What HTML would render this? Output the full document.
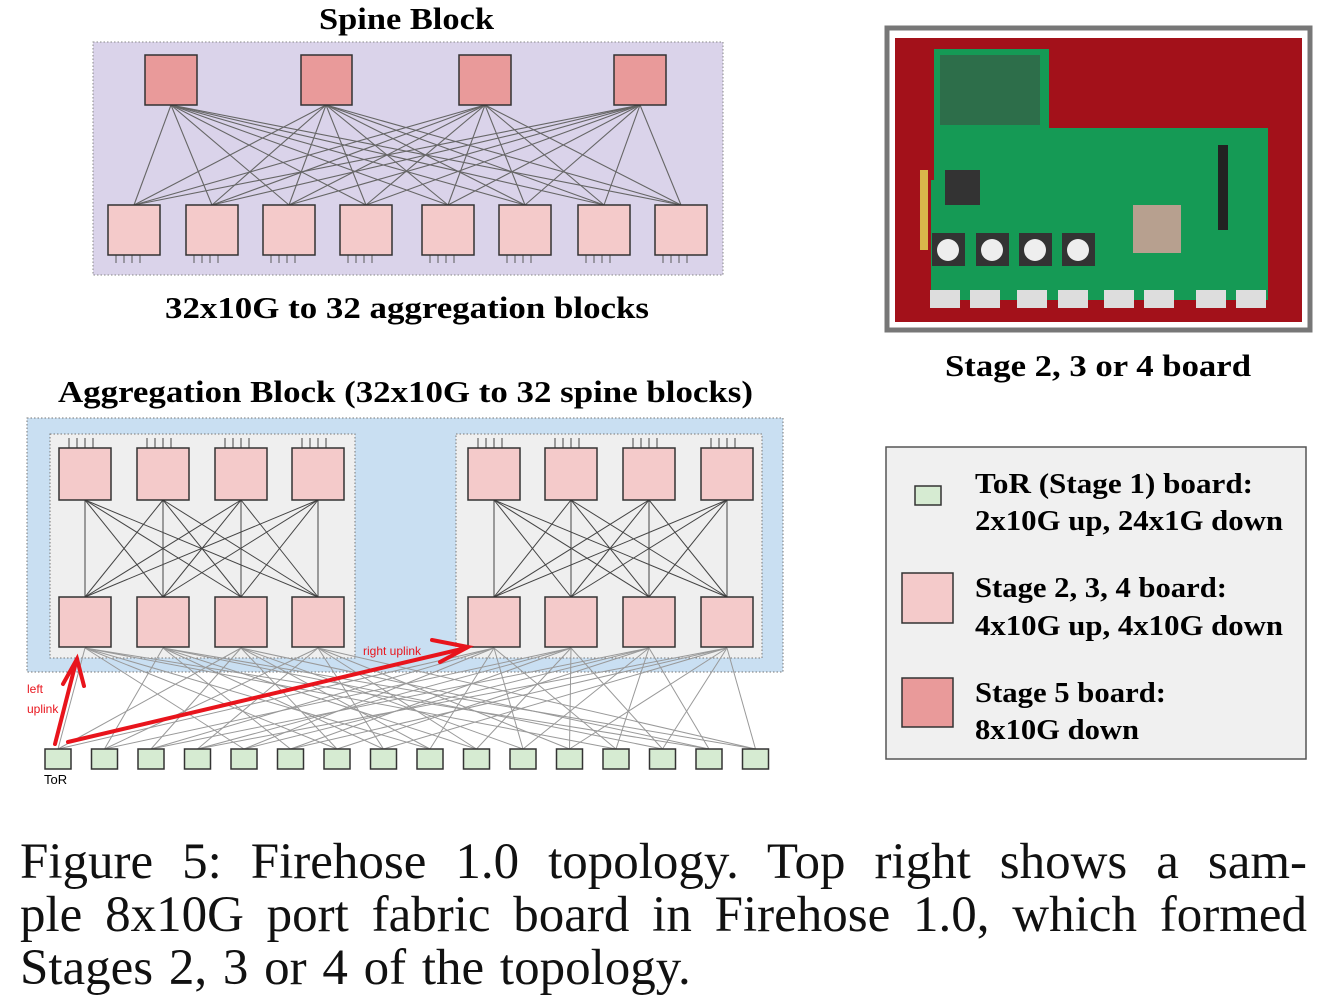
<!DOCTYPE html>
<html><head><meta charset="utf-8"><style>
html,body{margin:0;padding:0;background:#fff;width:1334px;height:1006px;overflow:hidden}
svg{position:absolute;left:0;top:0}
.cap{position:absolute;left:20px;width:1287px;font-family:"Liberation Serif",serif;font-size:51px;text-align:justify;text-align-last:justify;line-height:53px;color:#111;white-space:nowrap}
</style></head><body>
<svg id="s" width="1334" height="1006" xmlns="http://www.w3.org/2000/svg" font-family="Liberation Serif, serif">
<text x="319" y="29" font-size="31" font-weight="bold" textLength="175" lengthAdjust="spacingAndGlyphs">Spine Block</text>
<rect x="93" y="42" width="630" height="233" fill="#dad3ea" stroke="#888" stroke-dasharray="1.5,2"/>
<g id="spl" stroke="#666" stroke-width="1.1"></g>
<g id="spn" fill="#e99a9a" stroke="#333" stroke-width="1.5">
<rect x="145" y="55" width="52" height="50"/><rect x="301" y="55" width="51" height="50"/><rect x="459" y="55" width="52" height="50"/><rect x="614" y="55" width="52" height="50"/>
</g>
<g id="low" fill="#f4caca" stroke="#333" stroke-width="1.5"></g>
<text x="165" y="318" font-size="31" font-weight="bold" textLength="484" lengthAdjust="spacingAndGlyphs">32x10G to 32 aggregation blocks</text>

<rect x="887" y="28" width="423" height="302" fill="#fff" stroke="#777" stroke-width="5"/>
<rect x="895" y="38" width="407" height="284" fill="#a3111a"/>
<polygon points="934,49 1049,49 1049,128 1268,128 1268,300 931,300 931,180 934,180" fill="#159a55"/>
<rect x="920" y="170" width="8" height="80" fill="#d9b44a"/>
<rect x="940" y="55" width="100" height="70" fill="#2d6e4a"/>
<rect x="945" y="170" width="35" height="35" fill="#333"/>
<rect x="1133" y="205" width="48" height="48" fill="#b7a08f"/>
<rect x="1218" y="145" width="10" height="85" fill="#222"/>
<g fill="#333"><rect x="932" y="233" width="33" height="33"/><rect x="976" y="233" width="33" height="33"/><rect x="1019" y="233" width="33" height="33"/><rect x="1062" y="233" width="33" height="33"/></g>
<g fill="#eee"><circle cx="948" cy="250" r="11"/><circle cx="992" cy="250" r="11"/><circle cx="1035" cy="250" r="11"/><circle cx="1078" cy="250" r="11"/></g>
<g fill="#ddd"><rect x="930" y="290" width="30" height="18"/><rect x="970" y="290" width="30" height="18"/><rect x="1017" y="290" width="30" height="18"/><rect x="1058" y="290" width="30" height="18"/><rect x="1104" y="290" width="30" height="18"/><rect x="1144" y="290" width="30" height="18"/><rect x="1196" y="290" width="30" height="18"/><rect x="1236" y="290" width="30" height="18"/></g>
<text x="945" y="376" font-size="31" font-weight="bold" textLength="306" lengthAdjust="spacingAndGlyphs">Stage 2, 3 or 4 board</text>

<text x="58" y="402" font-size="31" font-weight="bold" textLength="695" lengthAdjust="spacingAndGlyphs">Aggregation Block (32x10G to 32 spine blocks)</text>
<rect x="27" y="418" width="756" height="254" fill="#c9dff2" stroke="#777" stroke-dasharray="1.5,2"/>
<rect x="50" y="434" width="305" height="224" fill="#efefef" stroke="#777" stroke-dasharray="1.5,2"/>
<rect x="456" y="434" width="306" height="224" fill="#efefef" stroke="#777" stroke-dasharray="1.5,2"/>
<g id="tl" stroke="#999" stroke-width="1"></g>
<g id="agl" stroke="#444" stroke-width="1"></g>
<g id="agn" fill="#f4caca" stroke="#333" stroke-width="1.5"></g>
<g id="tor" fill="#d6ebd2" stroke="#333" stroke-width="1.5"></g>
<text x="44" y="784" font-family="Liberation Sans, sans-serif" font-size="13">ToR</text>
<g stroke="#e8141c" stroke-width="4" fill="none" stroke-linecap="round">
<line x1="55" y1="744" x2="76" y2="662"/><polyline points="63,684 77,659 84,686"/>
<line x1="68" y1="742" x2="466" y2="648"/><polyline points="432,640 468,647 440,662"/>
</g>
<g fill="#e8141c" font-family="Liberation Sans, sans-serif" font-size="12">
<text x="27" y="693">left</text><text x="27" y="713">uplink</text><text x="363" y="655">right uplink</text>
</g>

<rect x="886" y="447" width="420" height="312" fill="#f0f0f0" stroke="#555" stroke-width="1.5"/>
<rect x="915" y="486" width="26" height="19" fill="#d6ebd2" stroke="#333" stroke-width="1.5"/>
<rect x="902" y="573" width="51" height="50" fill="#f4caca" stroke="#333" stroke-width="1.5"/>
<rect x="902" y="678" width="51" height="49" fill="#e99a9a" stroke="#333" stroke-width="1.5"/>
<g font-size="28" font-weight="bold" lengthAdjust="spacingAndGlyphs">
<text x="975" y="493" textLength="278" lengthAdjust="spacingAndGlyphs">ToR (Stage 1) board:</text><text x="975" y="530" textLength="308" lengthAdjust="spacingAndGlyphs">2x10G up, 24x1G down</text>
<text x="975" y="597" textLength="252" lengthAdjust="spacingAndGlyphs">Stage 2, 3, 4 board:</text><text x="975" y="635" textLength="308" lengthAdjust="spacingAndGlyphs">4x10G up, 4x10G down</text>
<text x="975" y="702" textLength="191" lengthAdjust="spacingAndGlyphs">Stage 5 board:</text><text x="975" y="739" textLength="164" lengthAdjust="spacingAndGlyphs">8x10G down</text>
</g>
</svg>
<div class="cap" style="top:836px">Figure 5: Firehose 1.0 topology. Top right shows a sam-</div>
<div class="cap" style="top:889px">ple 8x10G port fabric board in Firehose 1.0, which formed</div>
<div class="cap" style="top:942px;width:auto;text-align:left;text-align-last:left;word-spacing:3px">Stages 2, 3 or 4 of the topology.</div>
<script>
var NS="http://www.w3.org/2000/svg";
function el(p,t,a){var e=document.createElementNS(NS,t);for(var k in a)e.setAttribute(k,a[k]);document.getElementById(p).appendChild(e);}
var spx=[171,326,485,640], lx=[108,186,263,340,422,499,578,655];
lx.forEach(function(x){el("low","rect",{x:x,y:205,width:52,height:50});for(var i=0;i<4;i++)el("spl","line",{x1:x+8+i*8,y1:255,x2:x+8+i*8,y2:263});});
spx.forEach(function(s){lx.forEach(function(x){el("spl","line",{x1:s,y1:105,x2:x+26,y2:205});});});
var ax=[[59,137,215,292],[468,545,623,701]];
var bottoms=[];
ax.forEach(function(g){
 g.forEach(function(x){el("agn","rect",{x:x,y:448,width:52,height:52});el("agn","rect",{x:x,y:597,width:52,height:50});
  for(var i=0;i<4;i++)el("agl","line",{x1:x+10+i*8,y1:438,x2:x+10+i*8,y2:448});
  bottoms.push(x+26);});
 g.forEach(function(a){g.forEach(function(b){el("agl","line",{x1:a+26,y1:500,x2:b+26,y2:597});});});
});
var tx=[];for(var j=0;j<16;j++){var x=45+j*46.5;tx.push(x+13);el("tor","rect",{x:x,y:749,width:26,height:20});}
bottoms.forEach(function(b,k){for(var j=0;j<16;j++){if(j%4==k%4 || (j+2)%8==k)el("tl","line",{x1:b,y1:648,x2:tx[j],y2:749});}});
</script>
</body></html>
